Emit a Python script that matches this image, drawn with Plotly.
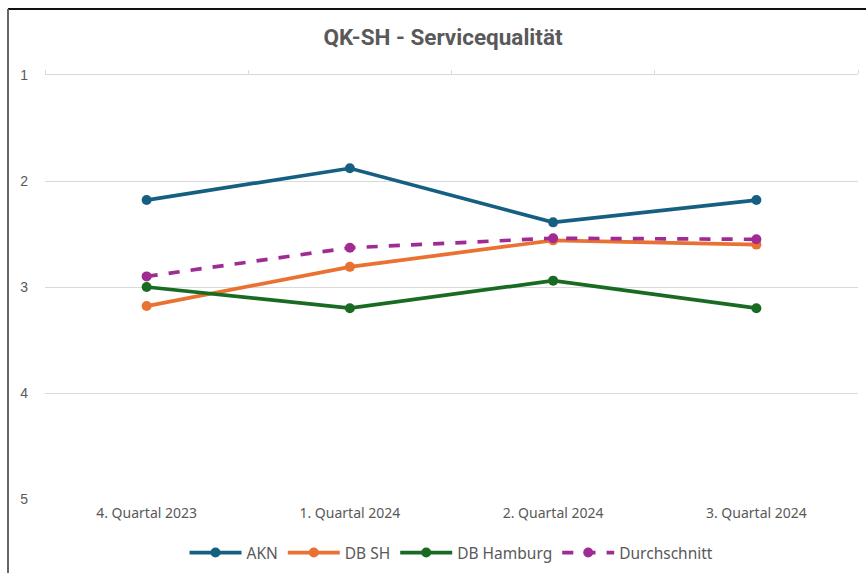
import plotly.graph_objects as go

quartale = ["4. Quartal 2023", "1. Quartal 2024", "2. Quartal 2024", "3. Quartal 2024"]
akn = [2.18, 1.88, 2.39, 2.18]
db_sh = [3.18, 2.81, 2.56, 2.60]
db_hamburg = [3.00, 3.20, 2.94, 3.20]
durchschnitt = [2.90, 2.63, 2.54, 2.55]

serien = [
    ("AKN", akn, "#156082", "solid"),
    ("DB SH", db_sh, "#E97132", "solid"),
    ("DB Hamburg", db_hamburg, "#196B24", "solid"),
    ("Durchschnitt", durchschnitt, "#A02B93", "dash"),
]

fig = go.Figure()
for name, werte, farbe, dash in serien:
    fig.add_trace(go.Scatter(
        x=quartale, y=werte, name=name, mode="lines+markers",
        line=dict(color=farbe, width=3.7, dash=dash),
        marker=dict(color=farbe, size=10),
    ))

# unsichtbare Spur für die obere Kategorieachse (Ticks an den Grenzen)
fig.add_trace(go.Scatter(x=quartale, y=[1] * 4, xaxis="x2", mode="lines",
                         line=dict(width=0), showlegend=False, hoverinfo="skip"))

# Rahmen links/oben wie im Original
L, R, T, B = 45, 8, 75, 74
pw, ph = 866 - L - R, 573 - T - B
x_rand = (8 - L) / pw
y_rand = 1 + (T - 9) / ph
fig.add_shape(type="line", xref="paper", yref="paper", x0=x_rand, x1=1 + R / pw,
              y0=y_rand, y1=y_rand, line=dict(color="#111111", width=2))
fig.add_shape(type="line", xref="paper", yref="paper", x0=x_rand, x1=x_rand,
              y0=y_rand, y1=-B / ph - 0.01, line=dict(color="#666666", width=2))

fig.update_layout(
    width=866, height=573,
    margin=dict(l=L, r=R, t=T, b=B, autoexpand=False),
    paper_bgcolor="white", plot_bgcolor="white",
    title=dict(text="<b>QK-SH - Servicequalität</b>", x=(443 - L) / pw, xref="paper",
               xanchor="center", y=1 - 37 / 573, yanchor="middle",
               font=dict(family="Roboto, sans-serif", size=22.5, color="#595959")),
    legend=dict(orientation="h", x=0.5, xanchor="center", y=(499 - 553) / ph, yanchor="middle",
                font=dict(family="Noto Sans, sans-serif", size=15.5, color="#595959"),
                itemwidth=52, tracegroupgap=0),
    xaxis=dict(range=[-0.5, 3.5], showgrid=False, showline=False, ticks="", automargin=False,
               tickfont=dict(family="Noto Sans, sans-serif", size=14, color="#595959"),
               ticklabelstandoff=4),
    xaxis2=dict(range=[-0.5, 3.5], overlaying="x", side="top", showgrid=False, automargin=False,
                showline=True, linecolor="#d9d9d9", linewidth=1,
                ticks="outside", tickson="boundaries", ticklen=4, tickcolor="#d9d9d9",
                showticklabels=False),
    yaxis=dict(range=[5, 1], tickvals=[1, 2, 3, 4, 5], showgrid=True, gridcolor="#d9d9d9",
               gridwidth=1, zeroline=False, showline=False, ticks="", automargin=False,
               tickfont=dict(family="Liberation Sans, Arial, sans-serif", size=14, color="#595959"),
               ticklabelstandoff=16),
    showlegend=True,
)

fig.write_html("out.html", config={"displayModeBar": False},
               post_script="document.body.style.margin='0px';")
